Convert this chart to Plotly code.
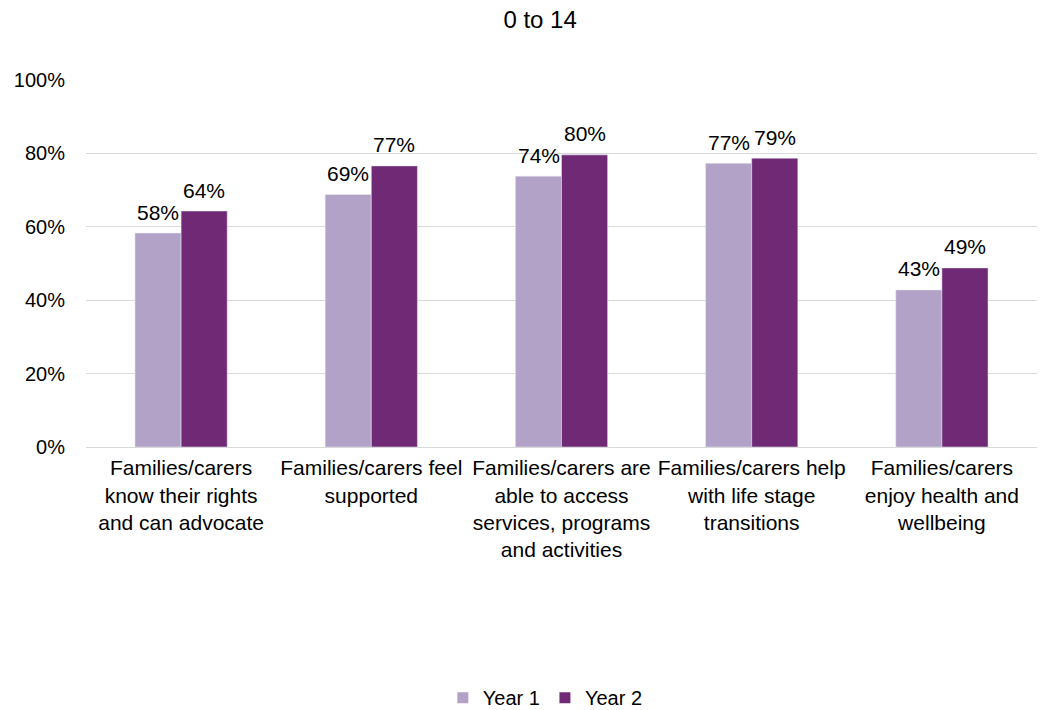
import plotly.graph_objects as go

categories = [
    "Families/carers<br>know their rights<br>and can advocate",
    "Families/carers feel<br>supported",
    "Families/carers are<br>able to access<br>services, programs<br>and activities",
    "Families/carers help<br>with life stage<br>transitions",
    "Families/carers<br>enjoy health and<br>wellbeing",
]
series_names = ["Year 1", "Year 2"]
year1 = [0.583, 0.688, 0.738, 0.773, 0.428]
year2 = [0.643, 0.766, 0.796, 0.787, 0.488]
colors = ["#B3A2C7", "#702A75"]

FAMILY = "Liberation Sans, Arial, sans-serif"
font = dict(family=FAMILY, size=20, color="#000000")
label_font = dict(family=FAMILY, size=21, color="#000000")

fig = go.Figure()
for name, vals, col in zip(series_names, [year1, year2], colors):
    fig.add_trace(go.Bar(name=name, x=categories, y=vals, marker_color=col,
                         showlegend=False))
    # square legend swatch
    fig.add_trace(go.Scatter(name=name, x=[None], y=[None], mode="markers",
                             marker=dict(symbol="square", size=11, color=col),
                             showlegend=True))

# value labels above each bar
bar_px = 46
for vals, shift in [(year1, -bar_px / 2), (year2, bar_px / 2)]:
    for c, v in zip(categories, vals):
        fig.add_annotation(x=c, y=v, text=f"{v:.0%}", showarrow=False,
                           xshift=shift, yshift=21, font=label_font)

fig.update_layout(
    width=1049, height=710,
    margin=dict(l=86, r=12, t=80, b=263, autoexpand=False),
    paper_bgcolor="white", plot_bgcolor="white",
    font=font,
    barmode="group", bargap=0.515, bargroupgap=0,
    title=dict(text="0 to 14", xref="paper", x=0.4775, xanchor="center",
               yref="container", y=0.972, yanchor="middle",
               font=dict(family=FAMILY, size=24, color="#000000")),
    legend=dict(orientation="h", x=0.483, xanchor="center", y=-0.683, yanchor="middle",
                font=font, itemwidth=30, traceorder="normal"),
)
fig.update_yaxes(range=[0, 1], dtick=0.2, tickformat=".0%", showgrid=True,
                 gridcolor="#D9D9D9", gridwidth=1, zeroline=False, showline=False,
                 ticks="", ticklabelstandoff=20, tickfont=font)
fig.update_xaxes(showline=True, linecolor="#D9D9D9", linewidth=1, ticks="",
                 tickfont=label_font, tickangle=0, ticklabelstandoff=2)

fig.write_html("out.html")
